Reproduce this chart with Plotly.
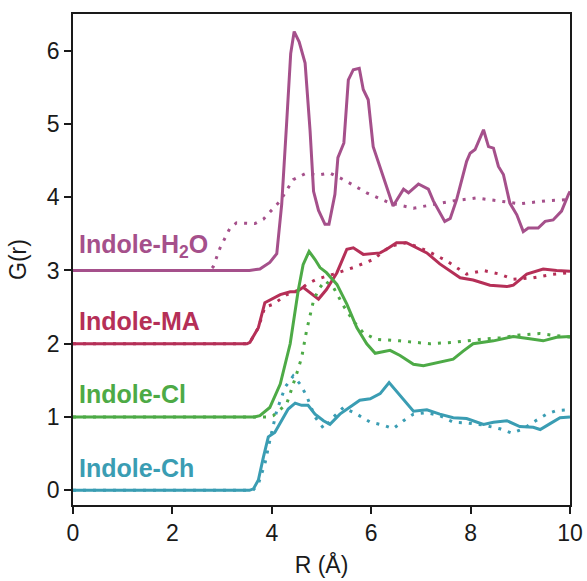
import plotly.graph_objects as go

# ---- data ----
h2o_r = [0, 3.55, 3.76, 3.96, 4.10, 4.20, 4.30, 4.38, 4.45, 4.55, 4.67, 4.77, 4.84, 4.94, 5.07, 5.15, 5.27, 5.33, 5.45, 5.54,
         5.64, 5.76, 5.84, 5.94, 6.04, 6.14, 6.44, 6.65, 6.75, 6.95, 7.15, 7.25, 7.48, 7.59, 7.72, 7.92, 7.99, 8.09, 8.26, 8.36,
         8.46, 8.56, 8.66, 8.79, 8.93, 9.06, 9.16, 9.36, 9.50, 9.66, 9.83, 9.97, 10.0]
h2o_g = [3.0, 3.0, 3.02, 3.11, 3.23, 3.91, 5.03, 5.96, 6.26, 6.12, 5.83, 4.91, 4.08, 3.82, 3.63, 3.63, 4.04, 4.54, 4.74, 5.60,
         5.74, 5.76, 5.47, 5.33, 4.69, 4.49, 3.88, 4.11, 4.06, 4.18, 4.11, 3.95, 3.67, 3.71, 3.97, 4.49, 4.60, 4.65, 4.92, 4.69,
         4.67, 4.42, 4.31, 3.92, 3.76, 3.53, 3.58, 3.58, 3.67, 3.69, 3.81, 4.04, 4.08]
h2o_dot_r = [0, 2.75, 2.82, 2.96, 3.16, 3.29, 3.66, 3.83, 4.17, 4.43, 4.70, 4.90, 5.17, 5.44, 5.91, 6.38, 6.85, 7.25, 7.65, 8.12,
             8.59, 8.99, 9.52, 10.0]
h2o_dot_g = [3.0, 3.0, 3.05, 3.31, 3.58, 3.65, 3.64, 3.70, 3.95, 4.24, 4.33, 4.30, 4.33, 4.24, 4.06, 3.92, 3.85, 3.90, 3.95, 3.99,
             3.95, 3.91, 3.95, 3.97]

ma_r = [0, 3.50, 3.56, 3.73, 3.86, 4.17, 4.37, 4.50, 4.63, 4.77, 4.94, 5.10, 5.31, 5.51, 5.64, 5.84, 6.18, 6.31, 6.51, 6.71,
        7.12, 7.38, 7.79, 8.05, 8.39, 8.73, 8.86, 9.13, 9.46, 9.73, 10.0]
ma_g = [2.0, 2.0, 2.02, 2.22, 2.56, 2.67, 2.71, 2.71, 2.77, 2.70, 2.61, 2.74, 2.97, 3.29, 3.31, 3.22, 3.24, 3.29, 3.38, 3.38,
        3.24, 3.09, 2.90, 2.87, 2.80, 2.78, 2.80, 2.95, 3.02, 3.00, 2.99]
ma_dot_r = [0, 3.50, 3.56, 3.73, 3.86, 4.03, 4.30, 4.57, 4.70, 4.90, 5.24, 5.64, 6.04, 6.38, 6.71, 7.12, 7.52, 7.92, 8.26, 8.59,
            8.86, 9.26, 9.66, 10.0]
ma_dot_g = [2.0, 2.0, 2.02, 2.22, 2.50, 2.54, 2.67, 2.74, 2.81, 2.88, 2.95, 3.04, 3.15, 3.33, 3.38, 3.27, 3.13, 2.95, 3.00, 2.95,
            2.88, 2.90, 2.95, 2.97]

cl_r = [0, 3.65, 3.76, 3.96, 4.17, 4.37, 4.53, 4.63, 4.75, 4.87, 4.97, 5.10, 5.31, 5.51, 5.71, 5.91, 6.08, 6.38, 6.58, 6.85,
        7.05, 7.38, 7.65, 7.85, 8.05, 8.46, 8.86, 9.19, 9.46, 9.73, 10.0]
cl_g = [1.0, 1.0, 1.02, 1.13, 1.45, 2.00, 2.72, 3.08, 3.26, 3.15, 3.04, 2.97, 2.81, 2.54, 2.22, 2.00, 1.87, 1.91, 1.84, 1.72,
        1.70, 1.75, 1.79, 1.90, 2.00, 2.04, 2.10, 2.07, 2.04, 2.09, 2.10]
cl_dot_r = [0, 3.95, 4.03, 4.30, 4.50, 4.60, 4.70, 4.84, 4.94, 5.07, 5.24, 5.44, 5.64, 5.84, 6.10, 6.58, 7.18, 7.65, 8.19, 8.59,
            8.99, 9.39, 9.73, 10.0]
cl_dot_g = [1.0, 1.0, 1.02, 1.18, 1.59, 1.81, 2.18, 2.59, 2.74, 2.86, 2.77, 2.52, 2.31, 2.15, 2.06, 2.04, 2.00, 2.02, 2.06, 2.08,
            2.12, 2.14, 2.11, 2.09]

ch_r = [0, 3.55, 3.63, 3.73, 3.83, 3.93, 4.06, 4.20, 4.33, 4.47, 4.60, 4.73, 4.87, 5.04, 5.17, 5.37, 5.57, 5.77, 5.98, 6.18,
        6.36, 6.58, 6.85, 7.12, 7.38, 7.65, 7.92, 8.26, 8.46, 8.73, 8.99, 9.26, 9.40, 9.60, 9.80, 10.0]
ch_g = [0.0, 0.0, 0.02, 0.14, 0.45, 0.73, 0.79, 0.95, 1.11, 1.19, 1.16, 1.16, 1.04, 0.95, 0.90, 1.04, 1.13, 1.23, 1.25, 1.32,
        1.47, 1.29, 1.08, 1.10, 1.04, 0.99, 0.98, 0.90, 0.93, 0.95, 0.87, 0.86, 0.83, 0.91, 0.99, 1.00]
ch_dot_r = [0, 3.62, 3.73, 3.86, 3.96, 4.10, 4.27, 4.43, 4.57, 4.70, 4.87, 5.05, 5.24, 5.44, 5.71, 5.98, 6.24, 6.44, 6.65, 6.85,
            7.12, 7.38, 7.65, 7.92, 8.26, 8.59, 8.83, 9.06, 9.26, 9.53, 9.73, 10.0]
ch_dot_g = [0.0, 0.0, 0.09, 0.36, 0.68, 1.09, 1.41, 1.56, 1.45, 1.29, 1.00, 0.84, 1.00, 1.13, 1.04, 0.93, 0.89, 0.84, 0.95, 1.04,
            1.06, 1.02, 0.93, 0.92, 0.89, 0.84, 0.78, 0.84, 0.93, 1.04, 1.09, 1.10]

labels = ["Indole-H<sub>2</sub>O", "Indole-MA", "Indole-Cl", "Indole-Ch"]
offsets = [3, 2, 1, 0]
colors = ["#A5508B", "#B52F57", "#4DAA46", "#3A9DB3"]
x_ticks = [0, 2, 4, 6, 8, 10]
y_ticks = [0, 1, 2, 3, 4, 5, 6]

series = [
    (h2o_r, h2o_g, h2o_dot_r, h2o_dot_g),
    (ma_r, ma_g, ma_dot_r, ma_dot_g),
    (cl_r, cl_g, cl_dot_r, cl_dot_g),
    (ch_r, ch_g, ch_dot_r, ch_dot_g),
]

fig = go.Figure()
for (sr, sg, dr, dg), col in zip(series, colors):
    fig.add_trace(go.Scatter(x=dr, y=dg, mode="lines",
                             line=dict(color=col, width=3, dash="3px,7px"), showlegend=False, hoverinfo="skip"))
    fig.add_trace(go.Scatter(x=sr, y=sg, mode="lines",
                             line=dict(color=col, width=3), showlegend=False))

for lab, off, col in zip(labels, offsets, colors):
    fig.add_annotation(x=0.08, y=off + 0.09, xref="x", yref="y", text="<b>" + lab + "</b>", showarrow=False,
                       xanchor="left", yanchor="bottom",
                       font=dict(family="Liberation Sans, Arial", size=25, color=col))

axis_font = dict(family="Liberation Sans, Arial", size=23, color="#1a1a1a")
fig.update_layout(
    width=587, height=581,
    margin=dict(l=73, r=17, t=14, b=76, autoexpand=False),
    paper_bgcolor="white", plot_bgcolor="white",
    font=axis_font,
)
fig.update_xaxes(range=[0, 10], tickvals=x_ticks, ticks="outside", ticklen=7, tickwidth=1.5,
                 tickcolor="#1a1a1a", showline=True, linecolor="#1a1a1a", linewidth=1.5, mirror=True,
                 showgrid=False, zeroline=False, tickfont=axis_font, automargin=False,
                 title=dict(text="R (Å)", font=axis_font, standoff=12))
fig.update_yaxes(range=[-0.2, 6.5], tickvals=y_ticks, ticks="outside", ticklen=7, tickwidth=1.5,
                 tickcolor="#1a1a1a", showline=True, linecolor="#1a1a1a", linewidth=1.5, mirror=True,
                 showgrid=False, zeroline=False, tickfont=axis_font, automargin=False,
                 title=dict(text="G(r)", font=axis_font, standoff=14))

fig.write_html("out.html", config={"displayModeBar": False},
               post_script="document.body.style.margin='0px';document.body.style.overflow='hidden';")
